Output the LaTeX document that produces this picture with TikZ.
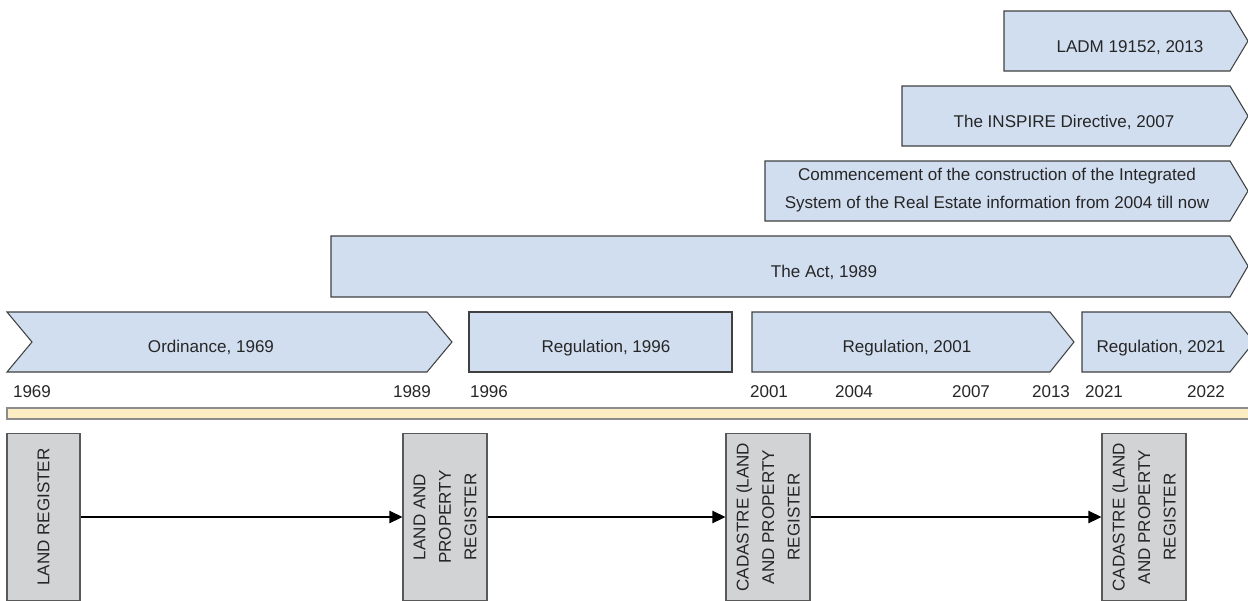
\documentclass[tikz,border=0pt]{standalone}
\usepackage{fontspec}
\setmainfont{Liberation Sans}
\definecolor{lawblue}{HTML}{D1DEF0}
\definecolor{edgegray}{HTML}{404040}
\definecolor{barcream}{HTML}{FDEDC3}
\definecolor{boxgray}{HTML}{D2D3D5}
\usetikzlibrary{
    arrows.meta,
    positioning
}
\tikzstyle{period} = [
    fill=lawblue,
    draw=edgegray,
    line width=0.6pt
]
\tikzstyle{lawtext} = [
    font=\fontsize{9.7}{16}\selectfont,
    text=black!85,
    align=center,
    inner sep=0pt
]
\tikzstyle{yeartext} = [
    font=\fontsize{9.7}{12}\selectfont,
    text=black!85,
    anchor=base,
    inner sep=0pt
]
\tikzstyle{register} = [
    rectangle,
    draw=black!65,
    line width=0.6pt,
    fill=boxgray,
    rotate=90,
    minimum width=3.36cm,
    align=center,
    inner sep=0pt,
    font=\fontsize{9.7}{14.5}\selectfont,
    text=black!85
]
\tikzstyle{arrow} = [
    -{Triangle[length=7.4pt,width=7pt]},
    line width=0.6pt,
    draw=black
]

\begin{document}
\begin{tikzpicture}[x=0.02cm, y=-0.02cm]
        \clip (0,0) rectangle (1248,600);

        % Standards and strategies
        \draw[period] (1004,11) -- (1230,11) -- (1248,41) -- (1230,71) -- (1004,71) -- cycle;
        \node[lawtext, anchor=base] (ladm) at (1130,52) {LADM 19152, 2013};
        \draw[period] (902,86) -- (1230,86) -- (1248,116) -- (1230,146) -- (902,146) -- cycle;
        \node[lawtext, anchor=base] (inspire) at (1064,127) {The INSPIRE Directive, 2007};
        \draw[period] (765,161) -- (1230,161) -- (1248,191) -- (1230,221) -- (765,221) -- cycle;
        \node[lawtext] (zsin) at (997,190) {Commencement of the construction of the Integrated\\System of the Real Estate information from 2004 till now};

        % The Act
        \draw[period] (331,236) -- (1230,236) -- (1248,266) -- (1230,297) -- (331,297) -- cycle;
        \node[lawtext, anchor=base] (act) at (824,277) {The Act, 1989};

        % Regulations
        \draw[period] (7,312) -- (427,312) -- (452,342) -- (427,372) -- (7,372) -- (32,342) -- cycle;
        \node[lawtext, anchor=base] (ord) at (211,352) {Ordinance, 1969};
        \draw[period] (469,312) rectangle (732,372);
        \node[lawtext, anchor=base] (reg96) at (606,352) {Regulation, 1996};
        \draw[period] (752,312) -- (1050,312) -- (1074,342) -- (1050,372) -- (752,372) -- cycle;
        \node[lawtext, anchor=base] (reg01) at (907,352) {Regulation, 2001};
        \draw[period] (1082,312) -- (1230,312) -- (1254,342) -- (1230,372) -- (1082,372) -- cycle;
        \node[lawtext, anchor=base] (reg21) at (1161,352) {Regulation, 2021};

        % Years
        \node[yeartext] (y1969) at (32,397) {1969};
        \node[yeartext] (y1989) at (412,397) {1989};
        \node[yeartext] (y1996) at (489,397) {1996};
        \node[yeartext] (y2001) at (769,397) {2001};
        \node[yeartext] (y2004) at (854,397) {2004};
        \node[yeartext] (y2007) at (971,397) {2007};
        \node[yeartext] (y2013) at (1051,397) {2013};
        \node[yeartext] (y2021) at (1104,397) {2021};
        \node[yeartext] (y2022) at (1206,397) {2022};

        % Time bar
        \draw[fill=barcream, draw=black!45, line width=0.6pt] (7,408) rectangle (1260,419);

        % Registers
        \node[register, minimum height=1.46cm] (landreg) at (43.5,517) {LAND REGISTER};
        \node[register, minimum height=1.68cm] (lapreg) at (445,517) {LAND AND\\PROPERTY\\REGISTER};
        \node[register, minimum height=1.68cm] (cad01) at (768,517) {CADASTRE (LAND\\AND PROPERTY\\REGISTER};
        \node[register, minimum height=1.68cm] (cad21) at (1144,517) {CADASTRE (LAND\\AND PROPERTY\\REGISTER};

        \draw[arrow] (landreg) -- (lapreg);
        \draw[arrow] (lapreg) -- (cad01);
        \draw[arrow] (cad01) -- (cad21);
    \end{tikzpicture}
\end{document}
